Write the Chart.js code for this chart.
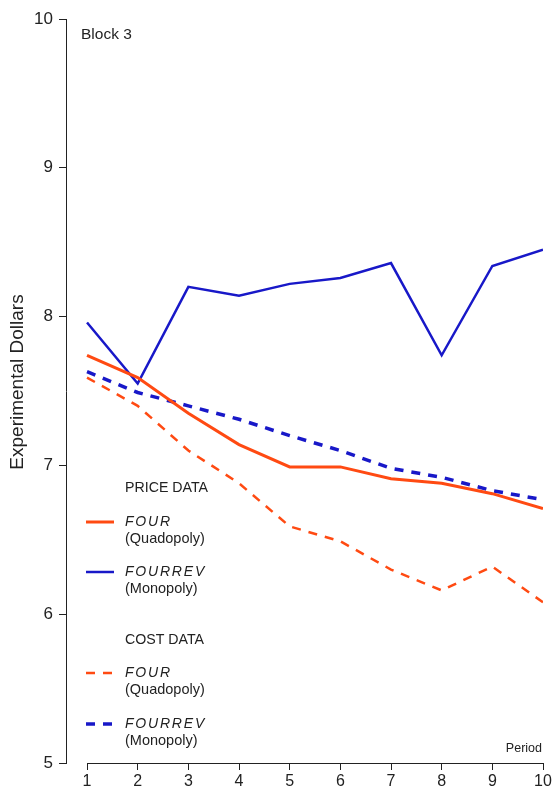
<!DOCTYPE html>
<html>
<head>
<meta charset="utf-8">
<script src="https://cdn.jsdelivr.net/npm/chart.js@4"></script>
<style>
  html, body { margin: 0; padding: 0; background: #fff; }
  #wrap { width: 554px; height: 792px; }
</style>
</head>
<body>
<div id="wrap"><canvas id="blockChart"></canvas></div>
<script>
var periods = [1, 2, 3, 4, 5, 6, 7, 8, 9, 10];
var priceFour = [7.74, 7.59, 7.35, 7.14, 6.99, 6.99, 6.91, 6.88, 6.81, 6.71];
var priceFourRev = [7.96, 7.55, 8.20, 8.14, 8.22, 8.26, 8.36, 7.74, 8.34, 8.45];
var costFour = [7.59, 7.40, 7.10, 6.88, 6.59, 6.49, 6.30, 6.16, 6.32, 6.08];
var costFourRev = [7.63, 7.49, 7.40, 7.31, 7.20, 7.10, 6.98, 6.92, 6.83, 6.77];
var yTicks = [5, 6, 7, 8, 9, 10];

const orange = '#ff4a12';
const blue = '#1818c8';
const ink = '#222222';
const fontFam = '"Liberation Sans", Arial, sans-serif';

function pts(vals) {
    return periods.map((p, i) => ({ x: p, y: vals[i] }));
}

// legend, axis title and notes drawn straight on the canvas
const notesPlugin = {
    id: 'notes',
    afterDraw(chart) {
        const c = chart.ctx;
        const xs = chart.scales.x;
        const area = chart.chartArea;
        c.save();

        // detached x axis line, from period 1 to 10
        c.strokeStyle = ink;
        c.lineWidth = 1;
        c.beginPath();
        c.moveTo(xs.getPixelForValue(1), area.bottom + 0.5);
        c.lineTo(xs.getPixelForValue(10), area.bottom + 0.5);
        c.stroke();

        c.fillStyle = ink;
        c.textBaseline = 'middle';

        // y axis title
        c.save();
        c.translate(18, 382);
        c.rotate(-Math.PI / 2);
        c.textAlign = 'center';
        c.font = '19px ' + fontFam;
        c.fillText('Experimental Dollars', 0, 0);
        c.restore();

        c.font = '15.5px ' + fontFam;
        c.fillText('Block 3', 81, 35);

        c.font = '12.5px ' + fontFam;
        c.textAlign = 'right';
        c.fillText('Period', 542, 749);
        c.textAlign = 'left';

        const items = [
            { head: 'PRICE DATA', y: 488 },
            { name: 'FOUR', sub: '(Quadopoly)', y: 522, color: orange, width: 3, dash: [] },
            { name: 'FOURREV', sub: '(Monopoly)', y: 572, color: blue, width: 2.5, dash: [] },
            { head: 'COST DATA', y: 640 },
            { name: 'FOUR', sub: '(Quadopoly)', y: 673, color: orange, width: 2.5, dash: [9, 8] },
            { name: 'FOURREV', sub: '(Monopoly)', y: 724, color: blue, width: 3.5, dash: [9, 8] }
        ];
        items.forEach(it => {
            if (it.head) {
                c.font = '14.2px ' + fontFam;
                c.fillStyle = ink;
                c.fillText(it.head, 125, it.y);
                return;
            }
            c.strokeStyle = it.color;
            c.lineWidth = it.width;
            c.setLineDash(it.dash);
            c.beginPath();
            c.moveTo(86, it.y);
            c.lineTo(114, it.y);
            c.stroke();
            c.setLineDash([]);
            c.fillStyle = ink;
            c.font = 'italic 14px ' + fontFam;
            c.letterSpacing = '1.8px';
            c.fillText(it.name, 125, it.y);
            c.letterSpacing = '0px';
            c.font = '14.5px ' + fontFam;
            c.fillText(it.sub, 125, it.y + 16.5);
        });
        c.restore();
    }
};

var ctx = document.getElementById('blockChart').getContext('2d');

var myChart = new Chart(ctx, {
    type: 'line',
    data: {
        datasets: [
            { label: 'FOUR price', data: pts(priceFour), borderColor: orange, borderWidth: 3 },
            { label: 'FOURREV price', data: pts(priceFourRev), borderColor: blue, borderWidth: 2.5 },
            { label: 'FOUR cost', data: pts(costFour), borderColor: orange, borderWidth: 2.5, borderDash: [9, 8] },
            { label: 'FOURREV cost', data: pts(costFourRev), borderColor: blue, borderWidth: 3.5, borderDash: [9, 8] }
        ]
    },
    options: {
        responsive: true,
        maintainAspectRatio: false,
        animation: false,
        elements: {
            point: { radius: 0 },
            line: { tension: 0, fill: false, borderCapStyle: 'butt' }
        },
        layout: {
            padding: { left: 0, right: 11, top: 19, bottom: 0 }
        },
        scales: {
            x: {
                type: 'linear',
                min: 0.585,
                max: 10,
                afterBuildTicks: function (scale) {
                    scale.ticks = periods.map(p => ({ value: p }));
                },
                afterFit: function (scale) {
                    scale.height = 29;
                },
                border: { display: false },
                grid: {
                    drawOnChartArea: false,
                    drawTicks: true,
                    tickLength: 7,
                    color: ink
                },
                ticks: {
                    color: ink,
                    padding: 2,
                    maxRotation: 0,
                    autoSkip: false,
                    font: { family: fontFam, size: 16 }
                }
            },
            y: {
                min: 5,
                max: 10,
                afterBuildTicks: function (scale) {
                    scale.ticks = yTicks.map(v => ({ value: v }));
                },
                afterFit: function (scale) {
                    scale.width = 66;
                },
                border: { display: true, color: ink, width: 1 },
                grid: {
                    drawOnChartArea: false,
                    drawTicks: true,
                    tickLength: 7,
                    color: ink
                },
                ticks: {
                    color: ink,
                    padding: 6,
                    font: { family: fontFam, size: 17 }
                }
            }
        },
        plugins: {
            legend: { display: false },
            tooltip: { enabled: false }
        }
    },
    plugins: [notesPlugin]
});
</script>
</body>
</html>
